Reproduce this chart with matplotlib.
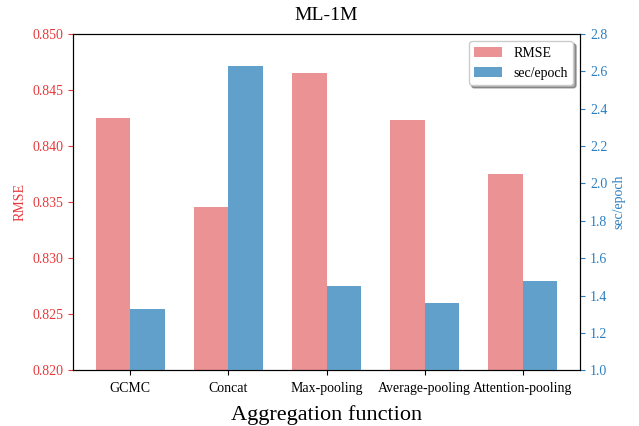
import matplotlib.pyplot as plt
import numpy as np

plt.rcParams['font.family'] = ['Liberation Serif', 'DejaVu Serif']

methods = ["GCMC", "Concat", "Max-pooling", "Average-pooling", "Attention-pooling"]
rmse = [0.8425, 0.8346, 0.8465, 0.8423, 0.8375]
sec_per_epoch = [1.33, 2.63, 1.45, 1.36, 1.48]

red = "#ea9294"
blue = "#61a0cb"
width = 0.35
x = np.arange(len(methods))

fig = plt.figure(figsize=(6.39, 4.26), dpi=100)
ax1 = fig.add_axes([0.114, 0.131, 0.794, 0.789])
b1 = ax1.bar(x - width / 2, rmse, width, color=red, label="RMSE")
ax1.set_ylim(0.82, 0.85)
ax1.set_yticks(np.arange(0.820, 0.8501, 0.005))
ax1.set_ylabel("RMSE", color="#e8383b", fontsize=10)
ax1.tick_params(axis="y", colors="#e8383b", labelsize=10)
ax1.tick_params(axis="x", labelsize=10, pad=5)
ax1.set_xticks(x)
ax1.set_xticklabels(methods)
ax1.set_xlabel("Aggregation function", fontsize=16, labelpad=7)
ax1.set_title("ML-1M", fontsize=14, pad=10)

ax2 = ax1.twinx()
b2 = ax2.bar(x + width / 2, sec_per_epoch, width, color=blue, label="sec/epoch")
ax2.set_ylim(1.0, 2.8)
ax2.set_yticks(np.arange(1.0, 2.81, 0.2))
ax2.set_ylabel("sec/epoch", color="#2b7fc0", fontsize=10)
ax2.tick_params(axis="y", colors="#2b7fc0", labelsize=10)

ax2.legend([b1, b2], ["RMSE", "sec/epoch"], loc="upper right", shadow=True,
           fancybox=True, fontsize=10)

fig.savefig("out.png", dpi=100)
